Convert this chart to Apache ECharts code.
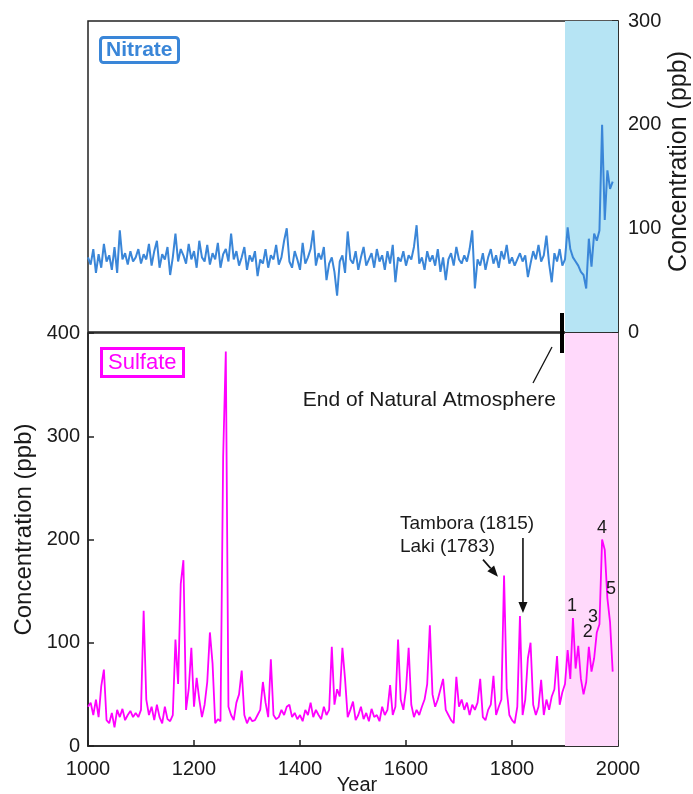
<!DOCTYPE html>
<html><head><meta charset="utf-8">
<script src="https://cdn.jsdelivr.net/npm/echarts@6/dist/echarts.min.js"></script>
<style>html,body{margin:0;padding:0;background:#fff}#c{width:693px;height:794px}</style>
</head><body><div id="c"></div>
<script>
// ---- data (5-year resolution) ----
const startYear = 1000, stepYears = 5;
const sulfate = [
  38,42,30,45,28,58,74,25,22,32,18,35,28,36,25,30,34,28,32,28,
  35,131,45,30,38,25,40,28,22,38,26,24,30,103,60,157,180,35,55,95,
  38,66,45,28,40,62,110,80,22,26,24,280,382,38,30,25,42,50,73,30,
  22,28,24,25,30,35,62,42,28,84,30,26,28,35,30,38,40,28,32,26,
  30,24,35,30,42,28,35,30,26,38,30,35,96,40,55,48,95,65,28,35,
  43,25,30,38,26,32,24,36,28,30,24,38,30,35,59,30,38,103,45,35,
  55,95,40,28,35,30,38,45,60,117,50,38,45,55,65,35,30,25,22,67,
  38,45,35,42,30,40,35,42,65,28,25,35,40,68,30,38,45,165,55,30,
  25,22,38,126,30,45,85,100,40,30,38,64,30,45,35,48,55,87,40,52,
  60,93,65,124,75,97,65,50,62,96,72,85,110,118,200,190,143,120,72
];
const nitrate = [
  72,65,80,57,75,62,85,68,74,60,82,57,98,70,76,65,78,68,72,80,
  66,75,70,85,64,78,88,62,75,70,82,55,72,95,68,80,74,66,85,70,
  78,62,88,72,68,84,65,76,70,86,62,75,80,68,95,70,78,64,72,82,
  60,74,68,78,54,70,66,80,62,74,70,84,65,72,88,100,68,62,78,70,
  60,86,66,72,80,98,64,76,70,82,50,66,72,58,35,68,74,57,97,70,
  66,78,60,72,82,64,70,76,62,80,68,74,60,78,66,84,48,72,68,78,
  64,74,70,82,103,66,72,60,78,68,74,64,80,58,72,50,70,76,64,82,
  70,66,74,68,80,98,42,70,64,76,60,72,80,66,74,62,78,70,84,66,
  72,64,70,76,68,74,53,66,78,70,84,68,74,93,66,48,76,68,80,64,
  70,101,80,72,68,64,58,55,42,90,63,95,88,98,200,108,156,138,145
];
const yearMin = 1000, yearMax = 2000, yearStep = 200;
const nitrateMax = 300, nitrateStep = 100;
const sulfateMax = 400, sulfateStep = 100;
const anthropoStart = 1900;
const peakLabels = ['1','2','3','4','5'];
const peakLabelPos = [[1913,136],[1943,110],[1953,125],[1970,211],[1987,152]];
const lakiYear = 1783, lakiValue = 165, tamboraYear = 1815, tamboraValue = 126;

const FONT = 'Liberation Sans, Arial, Helvetica, sans-serif';
const INK = '#1a1a1a';
const toPairs = arr => arr.map((v,i)=>[startYear + i*stepYears, v]);
const plain = v => String(v);

const chart = echarts.init(document.getElementById('c'), null, {renderer:'canvas'});
const axisText = {color: INK, fontSize: 20, fontFamily: FONT};
chart.setOption({
  animation: false,
  backgroundColor: '#fff',
  title: [
    {text:'Nitrate', left: 100, top: 37, padding:[3,6,2,6], borderColor:'#3a86d8', borderWidth:3, borderRadius:3,
     textStyle:{color:'#3a86d8', fontSize:21, fontWeight:'bold', fontFamily:FONT}},
    {text:'Sulfate', left: 101, top: 348, padding:[4,7,3,7], borderColor:'#ff00ff', borderWidth:3,
     textStyle:{color:'#ff00ff', fontSize:22, fontWeight:'normal', fontFamily:FONT}}
  ],
  grid: [
    {left: 88, right: 75, top: 21, height: 311, show: true, borderColor: '#222', borderWidth: 1.5, outerBoundsMode:'none', containLabel:false},
    {left: 88, right: 75, top: 333, height: 413, show: true, borderColor: '#222', borderWidth: 1.5, outerBoundsMode:'none', containLabel:false}
  ],
  xAxis: [
    {gridIndex:0, type:'value', min:yearMin, max:yearMax, interval:yearStep,
     axisLine:{show:false}, axisTick:{show:false}, axisLabel:{show:false}, splitLine:{show:false}},
    {gridIndex:1, type:'value', min:yearMin, max:yearMax, interval:yearStep,
     axisLine:{show:true, lineStyle:{color:'#222', width:1.5}},
     axisTick:{show:true, inside:true, length:6, lineStyle:{color:'#222', width:1.5}},
     axisLabel:{...axisText, margin:13, formatter: plain}, splitLine:{show:false},
     name:'Year', nameLocation:'middle', nameGap:29, nameMoveOverlap:false,
     nameTextStyle:{...axisText, padding:[0,0,0,8]}}
  ],
  yAxis: [
    {gridIndex:0, type:'value', position:'right', min:0, max:nitrateMax, interval:nitrateStep,
     axisLine:{show:true, lineStyle:{color:'#222', width:1.5}},
     axisTick:{show:true, inside:true, length:6, lineStyle:{color:'#222', width:1.5}},
     axisLabel:{...axisText, margin:10, formatter: plain}, splitLine:{show:false},
     name:'Concentration (ppb)', nameLocation:'middle', nameGap:49, nameRotate:90, nameMoveOverlap:false,
     nameTextStyle:{color:INK, fontSize:25, fontFamily:FONT, padding:[0,0,0,30]}},
    {gridIndex:1, type:'value', min:0, max:sulfateMax, interval:sulfateStep,
     axisLine:{show:true, lineStyle:{color:'#222', width:1.5}},
     axisTick:{show:true, inside:true, length:6, lineStyle:{color:'#222', width:1.5}},
     axisLabel:{...axisText, margin:8, formatter: plain}, splitLine:{show:false},
     name:'Concentration (ppb)', nameLocation:'middle', nameGap:52, nameMoveOverlap:false,
     nameTextStyle:{color:INK, fontSize:24, fontFamily:FONT, padding:[0,0,0,20]}}
  ],
  series: [
    {type:'line', xAxisIndex:0, yAxisIndex:0, data: toPairs(nitrate), showSymbol:false, z:3,
     lineStyle:{color:'#3a86d8', width:2},
     markArea:{silent:true, z:1, itemStyle:{color:'#b6e4f4'}, data:[[{xAxis:anthropoStart},{xAxis:yearMax}]]}},
    {type:'line', xAxisIndex:1, yAxisIndex:1, data: toPairs(sulfate), showSymbol:false, z:3,
     lineStyle:{color:'#ff00ff', width:1.8},
     markArea:{silent:true, z:1, itemStyle:{color:'#ffd9fb'}, data:[[{xAxis:anthropoStart},{xAxis:yearMax}]]}}
  ]
});

// ---- annotations positioned through the axes ----
const px = (g, x, y) => chart.convertToPixel({gridIndex:g}, [x, y]);
function arrow(x1,y1,x2,y2){
  const ang = Math.atan2(y2-y1, x2-x1), L = 11, W = 4.5;
  const bx = x2 - L*Math.cos(ang), by = y2 - L*Math.sin(ang);
  const nx = -Math.sin(ang), ny = Math.cos(ang);
  return [
    {type:'line', z:100, shape:{x1, y1, x2:bx, y2:by}, style:{stroke:'#111', lineWidth:1.6}},
    {type:'polygon', z:100, shape:{points:[[x2,y2],[bx+nx*W,by+ny*W],[bx-nx*W,by-ny*W]]}, style:{fill:'#111'}}
  ];
}
const g = [];
const b = px(1, anthropoStart, sulfateMax);
g.push({type:'rect', z:100, shape:{x:b[0]-5, y:b[1]-20, width:4, height:40}, style:{fill:'#000'}});
g.push({type:'line', z:100, shape:{x1:b[0]-13, y1:b[1]+14, x2:b[0]-32, y2:b[1]+50}, style:{stroke:'#111', lineWidth:1.3}});
g.push({type:'text', z:100, style:{text:'End of Natural Atmosphere', x:b[0]-9, y:b[1]+67, align:'right', verticalAlign:'middle',
  fill:INK, fontSize:21, fontFamily:FONT}});
const lk = px(1, lakiYear, lakiValue), tb = px(1, tamboraYear, tamboraValue);
g.push({type:'text', z:100, style:{text:'Tambora (1815)', x:lk[0]-103, y:lk[1]-52, align:'left', verticalAlign:'middle', fill:INK, fontSize:19, fontFamily:FONT}});
g.push({type:'text', z:100, style:{text:'Laki (1783)', x:lk[0]-103, y:lk[1]-29, align:'left', verticalAlign:'middle', fill:INK, fontSize:19, fontFamily:FONT}});
g.push(...arrow(lk[0]-20, lk[1]-16, lk[0]-5, lk[1]+1));
g.push(...arrow(tb[0]+3, tb[1]-78, tb[0]+3, tb[1]-3));
peakLabels.forEach((t,i)=>{
  const p = px(1, peakLabelPos[i][0], peakLabelPos[i][1]);
  g.push({type:'text', z:100, style:{text:t, x:p[0], y:p[1], align:'center', verticalAlign:'middle', fill:INK, fontSize:18, fontFamily:FONT}});
});
chart.setOption({graphic: g});
</script></body></html>
